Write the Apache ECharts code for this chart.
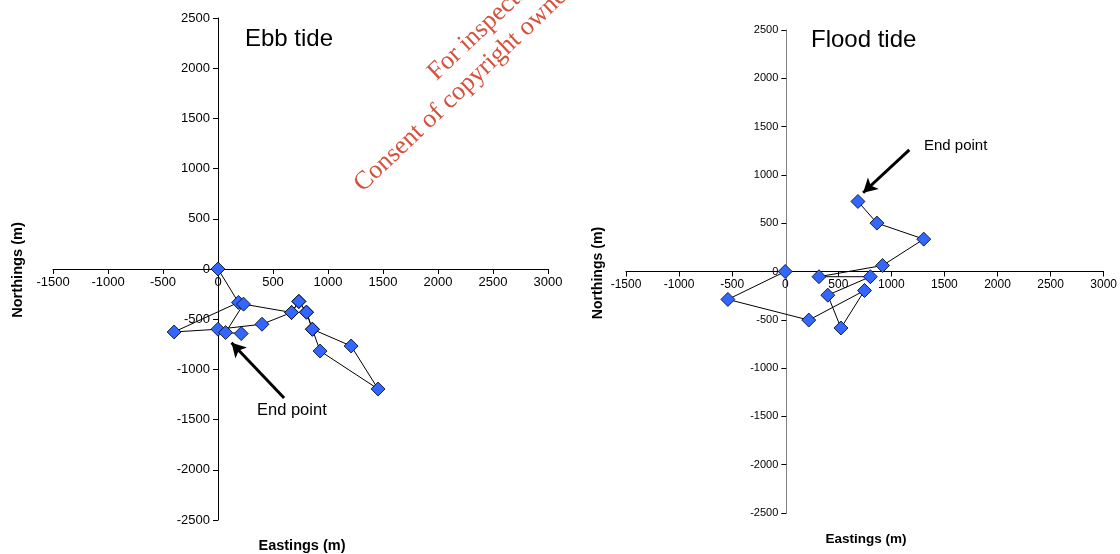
<!DOCTYPE html>
<html>
<head>
<meta charset="utf-8">
<script src="https://cdn.jsdelivr.net/npm/echarts@6/dist/echarts.min.js"></script>
<style>
html,body{margin:0;padding:0;background:#fff;}
#c{width:1120px;height:554px;}
</style>
</head>
<body>
<div id="c"></div>
<script>
// ---- data ----
const ebbEast  = [0, 186, -399, 0, 400, 669, 735, 804, 858, 1210, 1455, 928, 858, 804, 735, 669, 232, 69, 211];
const ebbNorth = [0, -333, -627, -600, -550, -433, -323, -430, -600, -767, -1195, -817, -600, -430, -323, -433, -350, -633, -643];
const floodEast  = [0, -540, 222, 747, 525, 401, 802, 318, 917, 1305, 864, 685];
const floodNorth = [0, -289, -503, -197, -585, -245, -54, -54, 62, 335, 501, 725];
const xRange = [-1500, 3000];
const yRange = [-2500, 2500];
const tickStep = 500;
const ebbArrow = [[601, -1285], [123, -735]];
const floodArrow = [[1169, 1260], [734, 815]];
const titles = ['Ebb tide', 'Flood tide'];
const xName = 'Eastings (m)';
const yName = 'Northings (m)';
const endLabel = 'End point';
const watermark = ['For inspection purposes only.', 'Consent of copyright owner required for any other use.'];

const FONT = '"Liberation Sans", Arial, sans-serif';
const chart = echarts.init(document.getElementById('c'));

const grids = [
  { left: 53, top: 18, width: 495, height: 502 },
  { left: 626, top: 30, width: 481, height: 483 }
];

function zip(a, b) { return a.map((v, i) => [v, b[i]]); }
const fmt = v => String(v);

function xAxis(gi, fs, lineColor) {
  const g = grids[gi];
  const off = g.height * (0 - yRange[0]) / (yRange[1] - yRange[0]);
  return {
    type: 'value', gridIndex: gi, min: xRange[0], max: xRange[1], interval: tickStep,
    position: 'bottom', offset: -off,
    axisLine: { onZero: false, lineStyle: { color: lineColor, width: 1 } },
    axisTick: { show: true, length: 5, lineStyle: { color: '#000' } },
    axisLabel: { color: '#000', fontSize: fs, fontFamily: FONT, margin: 7, formatter: fmt, hideOverlap: false },
    splitLine: { show: false }
  };
}
function yAxis(gi, fs, lineColor) {
  const g = grids[gi];
  const off = g.width * (0 - xRange[0]) / (xRange[1] - xRange[0]);
  return {
    type: 'value', gridIndex: gi, min: yRange[0], max: yRange[1], interval: tickStep,
    position: 'left', offset: -off,
    axisLine: { onZero: false, lineStyle: { color: lineColor, width: 1 } },
    axisTick: { show: true, length: 5, lineStyle: { color: '#000' } },
    axisLabel: { color: '#000', fontSize: fs, fontFamily: FONT, margin: 8, formatter: fmt, hideOverlap: false },
    splitLine: { show: false }
  };
}
function series(gi, data, arrow) {
  return {
    type: 'line', xAxisIndex: gi, yAxisIndex: gi, data: data,
    symbol: 'diamond', symbolSize: 14, showAllSymbol: true,
    lineStyle: { color: '#000', width: 1 },
    itemStyle: { color: '#3366ff', borderColor: '#000', borderWidth: 0.8 },
    animation: false, silent: true,
    markLine: {
      silent: true, animation: false,
      symbol: ['none', 'arrow'], symbolSize: [12, 14],
      lineStyle: { color: '#000', width: 3, type: 'solid' },
      label: { show: false },
      data: [[{ coord: arrow[0] }, { coord: arrow[1] }]]
    }
  };
}

const wmAngle = 43.5 * Math.PI / 180;
const SERIF = '26px "Liberation Serif", "Times New Roman", serif';

chart.setOption({
  animation: false,
  grid: grids,
  xAxis: [xAxis(0, 13, '#000'), xAxis(1, 12, '#000')],
  yAxis: [yAxis(0, 13, '#000'), yAxis(1, 11, '#808080')],
  series: [
    series(0, zip(ebbEast, ebbNorth), ebbArrow),
    series(1, zip(floodEast, floodNorth), floodArrow)
  ],
  graphic: [
    { type: 'text', left: 245, top: 27, style: { text: titles[0], font: '24px ' + FONT, fill: '#000' } },
    { type: 'text', left: 811, top: 28, style: { text: titles[1], font: '24px ' + FONT, fill: '#000' } },
    { type: 'text', left: 257, top: 402, style: { text: endLabel, font: '16.5px ' + FONT, fill: '#000' } },
    { type: 'text', left: 924, top: 138, style: { text: endLabel, font: '15px ' + FONT, fill: '#000' } },
    { type: 'text', x: 302, y: 546, style: { text: xName, font: 'bold 14.5px ' + FONT, fill: '#000', align: 'center', verticalAlign: 'middle' } },
    { type: 'text', x: 866, y: 539, style: { text: xName, font: 'bold 13.5px ' + FONT, fill: '#000', align: 'center', verticalAlign: 'middle' } },
    { type: 'text', x: 18, y: 270, rotation: Math.PI / 2, style: { text: yName, font: 'bold 14.6px ' + FONT, fill: '#000', align: 'center', verticalAlign: 'middle' } },
    { type: 'text', x: 598, y: 273, rotation: Math.PI / 2, style: { text: yName, font: 'bold 14.1px ' + FONT, fill: '#000', align: 'center', verticalAlign: 'middle' } },
    { type: 'group', x: 367, y: 197, rotation: wmAngle, children: [
      { type: 'text', x: 130, y: -30, style: { text: watermark[0], font: SERIF, fill: '#d4523e', align: 'left', verticalAlign: 'bottom' } },
      { type: 'text', x: 0, y: 0, style: { text: watermark[1], font: SERIF, fill: '#d4523e', align: 'left', verticalAlign: 'bottom' } }
    ] }
  ]
});
</script>
</body>
</html>
